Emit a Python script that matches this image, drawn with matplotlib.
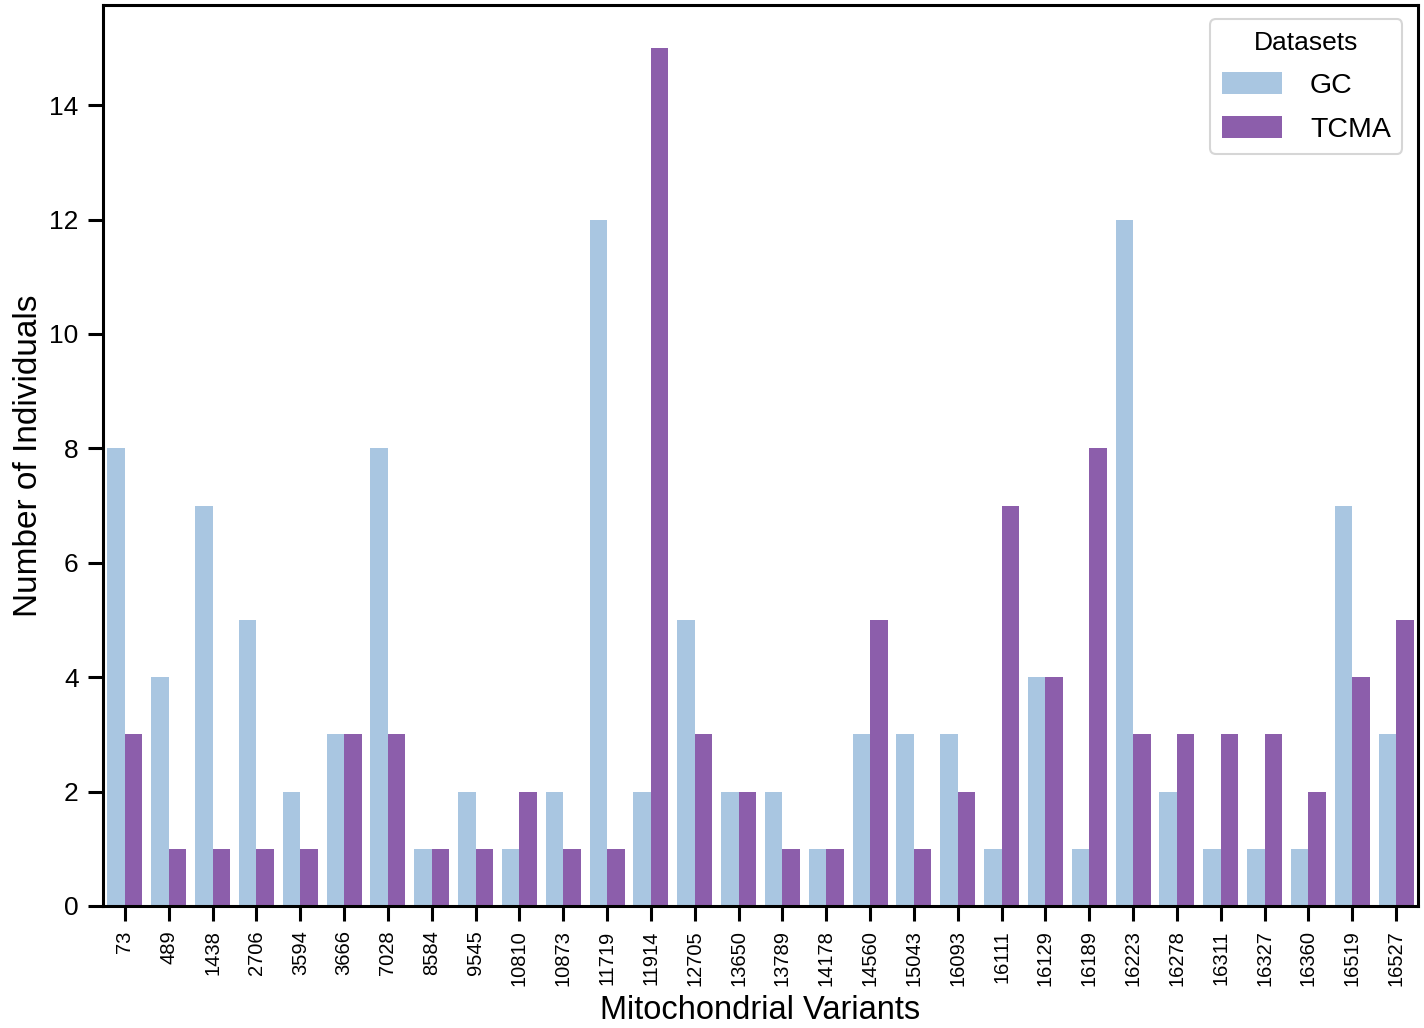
import matplotlib
matplotlib.use("Agg")
import matplotlib.pyplot as plt
import numpy as np

plt.rcParams['font.family'] = ['Liberation Sans', 'DejaVu Sans']

variants = ['73', '489', '1438', '2706', '3594', '3666', '7028', '8584', '9545', '10810',
            '10873', '11719', '11914', '12705', '13650', '13789', '14178', '14560', '15043',
            '16093', '16111', '16129', '16189', '16223', '16278', '16311', '16327', '16360',
            '16519', '16527']
gc = [8, 4, 7, 5, 2, 3, 8, 1, 2, 1, 2, 12, 2, 5, 2, 2, 1, 3, 3, 3, 1, 4, 1, 12, 2, 1, 1, 1, 7, 3]
tcma = [3, 1, 1, 1, 1, 3, 3, 1, 1, 2, 1, 1, 15, 3, 2, 1, 1, 5, 1, 2, 7, 4, 8, 3, 3, 3, 3, 2, 4, 5]

fig = plt.figure(figsize=(14.24, 10.28), dpi=100)
ax = fig.add_axes([0.0723, 0.1187, 0.9235, 0.8764])

x = np.arange(len(variants))
w = 0.4
ax.bar(x - w / 2, gc, width=w, color='#a9c6e1', label='GC')
ax.bar(x + w / 2, tcma, width=w, color='#8c5eab', label='TCMA')

ax.set_xlim(-0.5, len(variants) - 0.5)
ax.set_ylim(0, 15.75)
ax.set_xticks(x)
ax.set_xticklabels(variants, rotation=90, fontsize=14.5)
ax.set_yticks(range(0, 15, 2))
ax.tick_params(axis='y', labelsize=19, pad=7)
ax.tick_params(axis='x', pad=7)
ax.tick_params(length=10.5, width=2.2)
for s in ax.spines.values():
    s.set_linewidth(2.2)

ax.set_xlabel('Mitochondrial Variants', fontsize=23.5, labelpad=6)
ax.set_ylabel('Number of Individuals', fontsize=24, labelpad=4)

leg = ax.legend(title='Datasets', fontsize=20.5, title_fontsize=19, loc='upper right',
                bbox_to_anchor=(0.988, 0.984), borderaxespad=0, handlelength=2.1,
                handleheight=0.8, labelspacing=0.6, handletextpad=1.0)
leg.get_frame().set_linewidth(1.5)

fig.savefig('out.png', dpi=100)
